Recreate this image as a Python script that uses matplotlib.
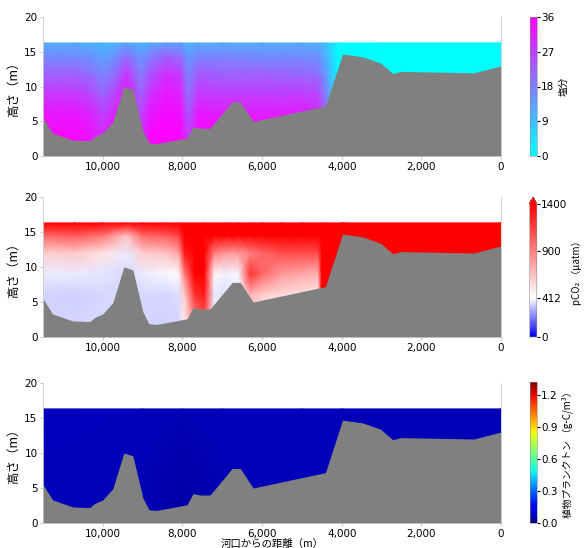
import numpy as np
import matplotlib
matplotlib.use("Agg")
import matplotlib.pyplot as plt
from matplotlib.colors import LinearSegmentedColormap, Normalize
from matplotlib.ticker import FuncFormatter

plt.rcParams['font.family'] = ['DejaVu Sans', 'Noto Sans CJK JP']

# ---- river bed profile (distance from mouth [m], height [m]) ----
bed_dist = [11500, 11260, 10755, 10327, 10201, 10000, 9748, 9471, 9244, 8992, 8841,
            8640, 7884, 7733, 7557, 7305, 6750, 6549, 6222, 4408, 3980, 3476, 3023,
            2720, 2519, 680, 0]
bed_h = [5.5, 3.3, 2.3, 2.2, 2.8, 3.3, 4.9, 10.0, 9.6, 3.6, 1.9,
         1.8, 2.6, 4.2, 4.0, 4.0, 7.8, 7.8, 5.0, 7.2, 14.7, 14.3, 13.4,
         11.9, 12.2, 12.0, 13.0]

# ---- levels for the sections ----
levels = [0, 3, 6, 9, 12, 14.5, 16.3]

# ---- salinity section ----
sal_dist = [11500, 10700, 10300, 10000, 9700, 9400, 9050, 8800, 8400, 8050, 7850,
            7600, 7000, 6000, 5000, 4600, 4400, 4100, 3000, 0]
sal_vals = [
    [34, 34, 33, 28, 22, 16, 12],
    [35, 35, 33, 28, 22, 16, 12],
    [34, 33, 31, 26, 20, 15, 11],
    [32, 30, 27, 22, 17, 13, 10],
    [34, 33, 31, 26, 20, 15, 11],
    [35, 35, 35, 33, 28, 20, 13],
    [31, 29, 26, 22, 18, 14, 11],
    [35, 35, 33, 29, 24, 18, 12],
    [36, 36, 35, 33, 29, 22, 14],
    [35, 35, 34, 31, 27, 20, 13],
    [29, 27, 24, 20, 17, 14, 11],
    [35, 35, 33, 28, 23, 17, 12],
    [35, 35, 32, 27, 22, 17, 12],
    [35, 35, 32, 27, 22, 16, 12],
    [35, 35, 32, 27, 21, 16, 12],
    [34, 34, 31, 26, 20, 15, 11],
    [28, 26, 22, 18, 14, 11, 9],
    [1, 1, 1, 1, 1, 0.5, 0.5],
    [0, 0, 0, 0, 0, 0, 0],
    [0, 0, 0, 0, 0, 0, 0],
]

# ---- pCO2 section ----
co2_dist = [11500, 10700, 10000, 9400, 9000, 8400, 8100, 7950, 7700, 7450, 7200,
            6900, 6600, 6300, 6000, 5500, 5000, 4600, 4500, 4000, 0]
co2_vals = [
    [350, 345, 340, 380, 600, 1000, 1500],
    [345, 340, 335, 380, 620, 1050, 1500],
    [355, 350, 345, 370, 520, 950, 1500],
    [350, 350, 350, 350, 380, 650, 1400],
    [345, 345, 345, 380, 600, 1000, 1500],
    [340, 340, 345, 400, 650, 1050, 1500],
    [340, 345, 360, 430, 750, 1150, 1500],
    [450, 500, 600, 900, 1300, 1500, 1500],
    [700, 900, 1200, 1500, 1500, 1500, 1500],
    [1000, 1100, 1300, 1500, 1500, 1500, 1500],
    [370, 380, 380, 450, 900, 1500, 1500],
    [360, 360, 360, 390, 800, 1500, 1500],
    [380, 380, 380, 400, 800, 1500, 1500],
    [550, 600, 700, 1200, 900, 1500, 1500],
    [500, 520, 600, 1000, 1000, 1500, 1500],
    [450, 470, 550, 800, 1100, 1500, 1500],
    [420, 450, 520, 750, 1100, 1500, 1500],
    [420, 450, 500, 700, 1100, 1500, 1500],
    [1500, 1500, 1500, 1500, 1500, 1500, 1500],
    [1500, 1500, 1500, 1500, 1500, 1500, 1500],
    [1500, 1500, 1500, 1500, 1500, 1500, 1500],
]

# ---- phytoplankton section ----
phy_dist = [11500, 9000, 8000, 7000, 5000, 4000, 0]
phy_levels = [0, 8, 16.3]
phy_vals = [
    [0.070, 0.072, 0.075],
    [0.062, 0.066, 0.072],
    [0.045, 0.055, 0.062],
    [0.062, 0.066, 0.072],
    [0.066, 0.070, 0.072],
    [0.062, 0.066, 0.068],
    [0.062, 0.064, 0.066],
]

xticks = [10000, 8000, 6000, 4000, 2000, 0]
yticks = [0, 5, 10, 15, 20]

W, H = 584, 548
fig = plt.figure(figsize=(W / 100, H / 100), dpi=100)

def fx(px):
    return px / W

def fy(py):
    return 1 - py / H

ax_rects = [(43, 17.3, 501, 156), (43, 197, 501, 337), (43, 383, 501, 523)]
cb_rects = [(529.5, 17, 536.8, 156), (529.5, 197, 536.8, 337), (529.5, 382, 536.8, 523)]

pco2_cmap = LinearSegmentedColormap.from_list(
    'pco2', [(0, (0, 0, 1)), (412 / 1400, (1, 1, 1)), (1, (1, 0, 0))])
pco2_cmap.set_over((1, 0, 0))

fields = [
    (sal_dist, levels, sal_vals, plt.get_cmap('cool'), Normalize(0, 36)),
    (co2_dist, levels, co2_vals, pco2_cmap, Normalize(0, 1400)),
    (phy_dist, phy_levels, phy_vals, plt.get_cmap('jet'), Normalize(0, 1.32)),
]
cb_labels = ['塩分', 'pCO₂ （μatm）', '植物プランクトン （g-C/m³）']
cb_ticks = [[0, 9, 18, 27, 36], [0, 412, 900, 1400], [0.0, 0.3, 0.6, 0.9, 1.2]]
cb_fmt = [None, None, '%.1f']

for i in range(3):
    l, t, r, b = ax_rects[i]
    ax = fig.add_axes([fx(l), fy(b), fx(r) - fx(l), fy(t) - fy(b)])
    d, lv, vals, cmap, norm = fields[i]
    X, Y = np.meshgrid(np.array(d, float), np.array(lv, float))
    C = np.array(vals, float).T
    mesh = ax.pcolormesh(X, Y, C, shading='gouraud', cmap=cmap, norm=norm, zorder=1)
    ax.fill_between(bed_dist, 0, bed_h, color='#808080', lw=0, zorder=2)
    ax.set_xlim(11500, 0)
    ax.set_ylim(0, 20)
    ax.set_xticks(xticks)
    ax.set_yticks(yticks)
    ax.xaxis.set_major_formatter(FuncFormatter(lambda v, p: f'{int(v):,}'))
    ax.tick_params(labelsize=7.5, length=2, color='#cccccc', pad=2)
    for s in ['top', 'bottom']:
        ax.spines[s].set_visible(False)
    for s in ['left', 'right']:
        ax.spines[s].set_color('#cccccc')
        ax.spines[s].set_linewidth(0.6)
    ax.set_ylabel('高さ（m）', fontsize=9, labelpad=3,
                  family=['Noto Sans CJK JP', 'DejaVu Sans'])

    cl, ct, cr, cbm = cb_rects[i]
    cax = fig.add_axes([fx(cl), fy(cbm), fx(cr) - fx(cl), fy(ct) - fy(cbm)])
    cb = fig.colorbar(mesh, cax=cax, extend='max' if i == 1 else 'neither',
                      ticks=cb_ticks[i], format=cb_fmt[i])
    cb.outline.set_linewidth(0.4)
    cb.outline.set_edgecolor('#888888')
    cax.tick_params(labelsize=7.5, length=2, pad=1)
    cb.set_label(cb_labels[i], fontsize=7, labelpad=3,
                 family=['Noto Sans CJK JP', 'DejaVu Sans'])
    if i == 2:
        ax.set_xlabel('河口からの距離（m）', fontsize=7.5, labelpad=0,
                      family=['Noto Sans CJK JP', 'DejaVu Sans'])

fig.savefig('out.png', dpi=100)
